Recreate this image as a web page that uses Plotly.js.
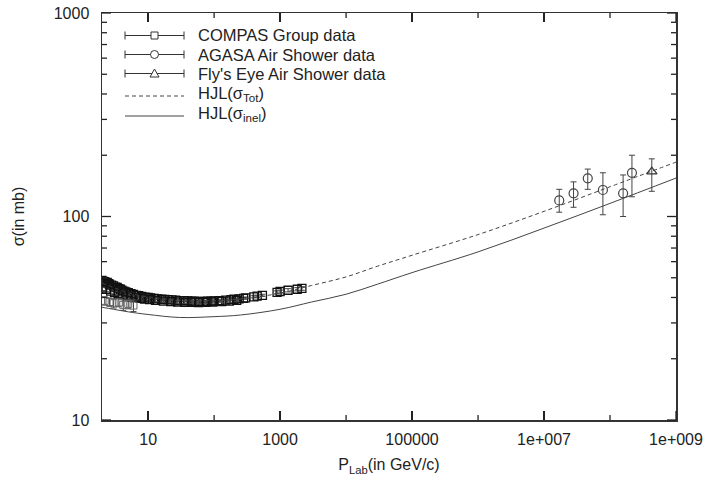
<!DOCTYPE html>
<html>
<head>
<meta charset="utf-8">
<script src="https://cdn.plot.ly/plotly-3.0.1.min.js"></script>
<style>html,body{margin:0;padding:0;background:#fff;}#chart{width:709px;height:487px;}</style>
</head>
<body>
<div id="chart"></div>
<script>
// COMPAS Group data (main band)
const compasX = [2.0,2.1,2.2,2.3,2.4,2.5,2.6,2.8,3.0,3.2,3.4,3.6,3.8,4.0,4.3,4.6,5.0,5.5,6.0,6.6,7.2,8.0,9.0,10,11,12.5,14,16,18,20,23,26,30,35,40,45,50,60,70,80,90,100,120,150,180,200,240,280,300,400,450,540,900,1000,1320,1820,2140];
const compasY = [48.5,48.0,47.8,47.2,47.5,46.8,46.5,46.0,45.6,45.0,44.8,44.2,43.9,43.5,43.0,42.6,42.2,41.8,41.4,41.0,40.8,40.5,40.2,40.0,39.8,39.6,39.4,39.2,39.1,39.0,38.9,38.8,38.6,38.6,38.5,38.4,38.4,38.3,38.3,38.4,38.4,38.5,38.6,38.8,39.0,39.2,39.4,39.6,39.8,40.3,40.6,41.0,42.4,42.8,43.4,43.9,44.3];
const compasErr = [1.0,1.0,0.9,0.9,0.9,0.8,0.8,0.8,0.7,0.7,0.7,0.7,0.6,0.6,0.6,0.6,0.6,0.5,0.5,0.5,0.5,0.5,0.5,0.4,0.4,0.4,0.4,0.4,0.4,0.4,0.4,0.4,0.4,0.4,0.4,0.4,0.4,0.4,0.4,0.4,0.4,0.4,0.4,0.4,0.4,0.4,0.4,0.4,0.4,0.5,0.5,0.5,0.7,0.7,0.8,0.8,0.9];
// COMPAS Group data (second band, slightly lower)
const compas2X = [2.0,2.3,2.7,3.1,3.5,4.1,4.8,5.6,6.5,7.6,8.8,10.5,13,17,22,28,36,46,58,75,95,130,170,220];
const compas2Y = [44.5,43.8,43.0,42.4,41.8,41.2,40.7,40.2,39.9,39.6,39.3,39.0,38.7,38.4,38.2,38.0,37.9,37.9,37.8,37.9,38.0,38.2,38.4,38.7];
const compas2Err = [1.2,1.1,1.0,1.0,0.9,0.9,0.8,0.8,0.7,0.7,0.6,0.6,0.6,0.5,0.5,0.5,0.5,0.5,0.5,0.5,0.5,0.5,0.5,0.5];
// COMPAS Group data (low points with visible errors)
const compas3X = [2.2,2.6,3.0,3.6,4.2,5.0,6.0];
const compas3Y = [38.5,38.0,37.5,37.8,36.8,37.2,36.5];
const compas3Err = [1.8,1.8,2.0,1.8,2.2,2.0,2.4];
// AGASA Air Shower data
const agasaX = [1.7e7,2.8e7,4.6e7,7.8e7,1.58e8,2.15e8];
const agasaY = [120,130,154,135,130,164];
const agasaErrPlus = [16,18,17,29,30,36];
const agasaErrMinus = [15,19,18,33,30,39];
// Fly's Eye Air Shower data
const flyX = [4.3e8];
const flyY = [166];
const flyErrPlus = [26];
const flyErrMinus = [33];
// HJL curves
const curveX = [2,3,5,10,30,100,250,1000,3000,10000,30000,100000,1e6,1e7,1e8,1e9];
const hjlTot = [47,44.8,42.2,40.3,38.9,38.6,39.3,42,45.8,50.5,57,64.5,81.5,106,140,185];
const hjlInel = [35.8,35,34,33,31.9,32.2,32.8,35,38,41.5,46.5,53,67,87.7,116,154.5];
// ticks
const xTickVals = [10,1000,100000,1e7,1e9];
const xTickText = ['10','1000','100000','1e+007','1e+009'];
const xMinorVals = [100,10000,1e6,1e8];
const yTickVals = [10,100,1000];
const yTickText = ['10','100','1000'];
const yMinorVals = [20,30,40,50,60,70,80,90,200,300,400,500,600,700,800,900];
// legend labels
const legendNames = ['COMPAS Group data','AGASA Air Shower data',"Fly's Eye Air Shower data",'HJL(σ<sub>Tot</sub>)','HJL(σ<sub>inel</sub>)'];

const ink = '#222';
const errStyle = (arr, arrm) => ({type:'data', array:arr, arrayminus:arrm||arr, visible:true, color:'#444', thickness:1, width:3});
const sq = {symbol:'square-open', size:8, color:'#111', line:{width:1.3, color:'#111'}};

const traces = [
  {x:compasX, y:compasY, mode:'markers', marker:sq, error_y:errStyle(compasErr), showlegend:false},
  {x:compas2X, y:compas2Y, mode:'markers', marker:sq, error_y:errStyle(compas2Err), showlegend:false},
  {x:compas3X, y:compas3Y, mode:'markers', marker:{symbol:'square-open', size:7, color:'#666', line:{width:1,color:'#666'}}, error_y:errStyle(compas3Err), showlegend:false},
  {x:agasaX, y:agasaY, mode:'markers', marker:{symbol:'circle-open', size:9, color:'#444', line:{width:1.2,color:'#444'}}, error_y:errStyle(agasaErrPlus, agasaErrMinus), showlegend:false},
  {x:flyX, y:flyY, mode:'markers', marker:{symbol:'triangle-up-open', size:9, color:'#333', line:{width:1.2,color:'#333'}}, error_y:errStyle(flyErrPlus, flyErrMinus), showlegend:false},
  {x:curveX, y:hjlTot, mode:'lines', line:{color:'#444', width:1, dash:'4px,3px', shape:'spline', smoothing:1}, showlegend:false},
  {x:curveX, y:hjlInel, mode:'lines', line:{color:'#444', width:1, shape:'spline', smoothing:1}, showlegend:false}
];

// plot-area geometry (pixels)
const L = 102, R = 676, T = 13, B = 420;
const X0 = Math.log10(2), X1 = 9, Y0 = 1, Y1 = 3;
const px = v => (v - L) / (R - L);
const py = v => (B - v) / (B - T);
const shapes = [];
const tc = '#222';
// axis ticks (inside, mirrored on top/right), placed in pixel space
function xtick(v, len) {
  const xp = L + (Math.log10(v) - X0) / (X1 - X0) * (R - L);
  shapes.push({type:'line', xref:'paper', yref:'paper', x0:px(xp), x1:px(xp), y0:py(B), y1:py(B - len), line:{color:tc, width:1.3}});
  shapes.push({type:'line', xref:'paper', yref:'paper', x0:px(xp), x1:px(xp), y0:py(T), y1:py(T + len), line:{color:tc, width:1.3}});
}
function ytick(v, len) {
  const yp = B - (Math.log10(v) - Y0) / (Y1 - Y0) * (B - T);
  shapes.push({type:'line', xref:'paper', yref:'paper', y0:py(yp), y1:py(yp), x0:px(L), x1:px(L + len), line:{color:tc, width:1.3}});
  shapes.push({type:'line', xref:'paper', yref:'paper', y0:py(yp), y1:py(yp), x0:px(R), x1:px(R - len), line:{color:tc, width:1.3}});
}
xTickVals.forEach(v => xtick(v, 9));
xMinorVals.forEach(v => xtick(v, 5));
yTickVals.forEach(v => ytick(v, 9));
yMinorVals.forEach(v => ytick(v, 5));

// manual legend
const rowY = [35.5, 54.5, 73.5, 96, 116];
const textY = [35, 54.5, 73.5, 94, 114];
const s0 = 125, s1 = 184, sc = 154.5;
const gray = '#333';
for (let i = 0; i < 3; i++) {
  const y = rowY[i];
  shapes.push({type:'line', xref:'paper', yref:'paper', x0:px(s0), x1:px(s1), y0:py(y), y1:py(y), line:{color:gray, width:1}});
  shapes.push({type:'line', xref:'paper', yref:'paper', x0:px(s0), x1:px(s0), y0:py(y-4), y1:py(y+4), line:{color:gray, width:1}});
  shapes.push({type:'line', xref:'paper', yref:'paper', x0:px(s1), x1:px(s1), y0:py(y-4), y1:py(y+4), line:{color:gray, width:1}});
}
shapes.push({type:'rect', xref:'paper', yref:'paper', x0:px(sc-3.5), x1:px(sc+3.5), y0:py(rowY[0]-3.5), y1:py(rowY[0]+3.5), line:{color:gray, width:1}, fillcolor:'#fff'});
shapes.push({type:'circle', xref:'paper', yref:'paper', x0:px(sc-4), x1:px(sc+4), y0:py(rowY[1]-4), y1:py(rowY[1]+4), line:{color:gray, width:1}, fillcolor:'#fff'});
shapes.push({type:'path', xref:'paper', yref:'paper', path:`M${px(sc-4.5)},${py(rowY[2]+3.5)} L${px(sc+4.5)},${py(rowY[2]+3.5)} L${px(sc)},${py(rowY[2]-4.5)} Z`, line:{color:gray, width:1}, fillcolor:'#fff'});
shapes.push({type:'line', xref:'paper', yref:'paper', x0:px(s0), x1:px(s1), y0:py(rowY[3]), y1:py(rowY[3]), line:{color:'#444', width:1, dash:'4px,3px'}});
shapes.push({type:'line', xref:'paper', yref:'paper', x0:px(s0), x1:px(s1), y0:py(rowY[4]), y1:py(rowY[4]), line:{color:'#444', width:1}});

const annotations = legendNames.map((t, i) => ({
  text:t, xref:'paper', yref:'paper', x:px(196), y:py(textY[i]), xanchor:'left', yanchor:'middle',
  showarrow:false, font:{size:16.5, color:ink}
}));

const layout = {
  width:709, height:487,
  margin:{l:L, r:709-R, t:T, b:487-B},
  paper_bgcolor:'#fff', plot_bgcolor:'#fff',
  font:{family:'Liberation Sans, Arial, sans-serif', size:16, color:ink},
  showlegend:false,
  shapes:shapes,
  annotations:annotations,
  xaxis:{type:'log', range:[X0, X1], tickmode:'array', tickvals:xTickVals, ticktext:xTickText,
    ticks:'inside', ticklen:9, tickwidth:1.3, tickcolor:tc, showline:true, linecolor:'#333', linewidth:1.5, mirror:'ticks',
    showgrid:false, zeroline:false, ticklabelstandoff:4,
    title:{text:'P<sub>Lab</sub>(in GeV/c)', font:{size:16}, standoff:12}},
  yaxis:{type:'log', range:[Y0, Y1], tickmode:'array', tickvals:yTickVals, ticktext:yTickText,
    ticks:'inside', ticklen:9, tickwidth:1.3, tickcolor:tc, showline:true, linecolor:'#333', linewidth:1.5, mirror:'ticks',
    showgrid:false, zeroline:false, ticklabelstandoff:8,
    title:{text:'σ(in mb)', font:{size:16}, standoff:25}}
};

Plotly.newPlot('chart', traces, layout, {staticPlot:true, displayModeBar:false});
</script>
</body>
</html>
